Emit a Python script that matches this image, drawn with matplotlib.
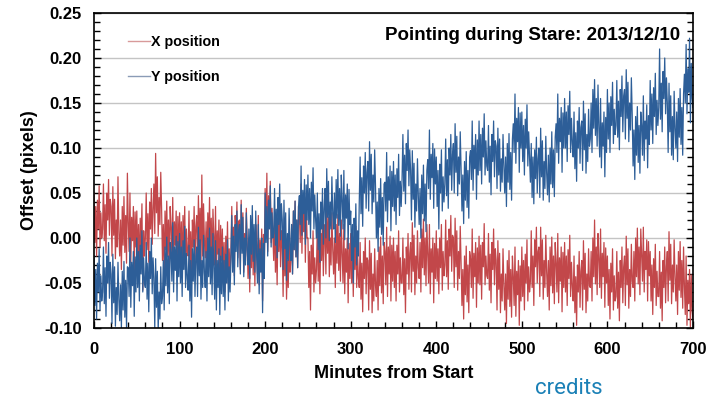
import numpy as np
import matplotlib.pyplot as plt
from matplotlib.lines import Line2D
from matplotlib.ticker import MultipleLocator, FormatStrFormatter

plt.rcParams['font.family'] = ['Liberation Sans', 'DejaVu Sans']

# pointing offsets in milli-pixels, one reading per minute, 10 per row
x_offset_mpx = [
    50, -5, 35, -20, 42, 10, 58, -10, 28, 0,
    10, 60, -3, 37, -17, 50, 20, 65, 3, 43,
    35, -20, 57, 3, 43, -23, 20, -10, 68, 7,
    -20, 20, -35, 35, -8, 46, -16, 25, -28, 72,
    17, -15, 50, -27, 23, -3, 35, -37, 29, -10,
    30, -25, 15, -40, 22, -10, 38, -58, 8, -20,
    0, 50, -13, 27, -27, 40, 10, 55, -7, 33,
    60, 5, 94, 28, 68, 2, 45, 15, 73, 32,
    -25, 15, -40, 30, -13, 41, -21, 20, -33, 35,
    12, -20, 45, -32, 18, -8, 30, -42, 24, -15,
    28, -22, 18, -38, 25, -12, 35, -32, 10, -18,
    -20, 30, -33, 7, -47, 20, -10, 35, -27, 13,
    25, -30, 47, -7, 33, -33, 70, -20, 38, -3,
    -22, 18, -38, 28, -10, 45, -18, 22, -35, 32,
    2, -30, 35, -42, 8, -18, 20, -52, 14, -25,
    10, -45, -5, -60, 2, -30, 18, -50, -12, -40,
    -15, 35, -28, 12, -42, 25, -5, 40, -22, 18,
    20, -35, 42, -12, 28, -38, 5, -25, 33, -8,
    -45, -5, -60, 10, -33, 21, -41, 0, -53, 15,
    -8, -40, 25, -52, -2, -28, 10, -70, 4, -35,
    55, 0, 72, -15, 47, 15, 63, -5, 33, 5,
    -25, 25, -38, 2, -52, 15, -15, 30, -32, 8,
    -10, -65, 12, -42, -2, -68, -25, -55, 3, -38,
    -25, 15, -40, 30, -13, 41, -21, 20, -33, 35,
    27, -5, 60, -17, 33, 7, 45, -27, 39, 0,
    0, -55, -15, -80, -8, -40, 8, -60, -22, -50,
    -35, 15, -48, -8, -62, 5, -25, 20, -42, -2,
    15, -40, 37, -17, 23, -43, 0, -30, 28, -13,
    -40, 0, -55, 15, -28, 26, -36, 5, -48, 20,
    -18, -50, 15, -62, -12, -38, 0, -72, -6, -45,
    5, -50, -10, -65, -3, -35, 13, -55, -17, -45,
    -55, -5, -68, -28, -82, -15, -45, 0, -62, -22,
    -25, -80, -3, -57, -17, -83, -40, -70, -12, -53,
    -65, -25, -80, -10, -53, 1, -61, -20, -73, -5,
    -15, -52, 12, -65, -10, -40, 2, -70, -8, -48,
    0, -55, -15, -70, -8, -40, 8, -60, -22, -50,
    -50, 0, -63, -23, -83, -10, -40, 5, -57, -17,
    -5, -60, 17, -37, 3, -63, -20, -50, 8, -33,
    -45, -5, -60, 10, -33, 21, -41, 0, -53, 15,
    -18, -50, 15, -62, -12, -38, 0, -72, -6, -45,
    8, -48, -12, -62, 0, -33, 15, -58, -15, -42,
    -30, 20, -43, -3, -57, 10, -20, 25, -37, 3,
    0, -55, 22, -32, 8, -58, -15, -45, 13, -28,
    -75, -35, -90, -20, -63, -9, -71, -30, -83, -15,
    -23, -55, 10, -67, -17, -43, -5, -77, -11, -50,
    2, -52, -8, -68, -5, -32, 16, -52, -20, -42,
    -45, 5, -58, -18, -72, -5, -35, 10, -52, -12,
    -25, -80, -3, -57, -17, -83, -40, -70, -12, -53,
    -80, -40, -95, -25, -68, -14, -76, -35, -88, -20,
    -43, -75, -10, -87, -37, -63, -25, -97, -31, -70,
    -10, -65, -25, -80, -18, -50, -2, -70, -32, -60,
    -48, 8, -55, -20, -75, -2, -32, 12, -50, -15,
    -10, -65, 12, -42, -2, -68, -25, -55, 3, -38,
    -65, -25, -80, -10, -53, 1, -61, -20, -73, -5,
    -28, -60, 5, -72, -22, -48, -10, -82, -16, -55,
    -5, -60, -20, -75, -13, -45, 3, -65, -27, -55,
    -70, -20, -83, -43, -97, -30, -60, -15, -77, -37,
    -25, -80, -3, -57, -17, -83, -40, -70, -12, -53,
    -55, -15, -70, 0, -43, 20, -51, -10, -63, 5,
    -23, -55, 10, -67, -17, -43, -5, -77, -11, -50,
    -20, -75, -35, -90, -28, -60, -12, -80, -42, -70,
    -65, -15, -78, -38, -92, -25, -55, -10, -72, -32,
    -20, -75, 2, -52, -12, -78, -35, -65, -7, -48,
    -55, -15, -70, 0, -43, 11, -51, -10, -63, 10,
    -20, -48, 12, -60, -15, -35, -2, -70, -4, -42,
    -15, -70, -30, -85, -23, -55, -7, -75, -37, -65,
    -65, -15, -78, -38, -92, -25, -55, -10, -72, -32,
    -15, -70, 7, -47, -7, -73, -30, -60, -2, -43,
    -70, -30, -85, -15, -58, -4, -66, -25, -78, -10,
    -53, -85, -20, -97, -47, -73, -35, -100, -41, -80,
    -90,
]

y_offset_mpx = [
    -20, -75, -35, -90, -28, -60, -12, -80, -42, -70,
    -60, -10, -73, -33, -87, -20, -50, -5, -67, -27,
    -40, -95, -18, -72, -32, -98, -55, -85, -27, -68,
    -92, -52, -100, -37, -80, -26, -88, -47, -100, -32,
    -33, -65, 0, -77, -27, -53, -15, -87, -21, -60,
    0, -55, -15, -70, -8, -40, 8, -60, -22, -50,
    -55, -5, -68, -28, -82, -15, -45, 0, -62, -22,
    -45, -100, -23, -77, -37, -103, -60, -90, -32, -73,
    -65, -25, -80, -10, -53, 1, -61, -20, -73, -5,
    -16, -48, 17, -60, -10, -36, 2, -70, -4, -43,
    5, -50, -10, -65, -3, -35, 13, -55, -17, -45,
    -58, -8, -70, -25, -88, -12, -48, -2, -65, -20,
    -10, -65, 12, -42, -2, -68, -25, -55, 3, -38,
    -55, -15, -70, 0, -43, 11, -51, -10, -63, 5,
    -30, -68, -3, -80, -25, -55, -12, -85, -20, -62,
    -10, -65, -25, -80, -18, -50, -2, -70, -32, -60,
    -25, 25, -38, 2, -52, 15, -15, 30, -32, 8,
    15, -40, 37, -17, 23, -43, 0, -30, 28, -13,
    -30, 10, -45, 25, -18, 36, -26, 15, -38, 30,
    -18, -50, 15, -62, -12, -38, 0, -83, -6, -45,
    50, -5, 35, -20, 42, 10, 58, -10, 28, 0,
    5, 55, -8, 32, -22, 45, 15, 60, -2, 38,
    20, -35, 42, -12, 28, -47, 5, -25, 33, -8,
    -25, 15, -40, 30, -13, 41, -21, 20, -33, 35,
    47, 15, 80, 3, 53, 27, 65, -7, 59, 20,
    70, 15, 55, 0, 62, 30, 78, 10, 48, 20,
    0, 50, -13, 27, -27, 40, 10, 55, -7, 33,
    55, 0, 77, 23, 63, -3, 40, 10, 68, 27,
    10, 50, -5, 65, 22, 76, 14, 55, 2, 70,
    42, 10, 75, -2, 48, 22, 60, -12, 54, 15,
    30, -25, 15, -50, 22, -10, 38, -30, 8, -20,
    40, 90, 27, 67, 13, 80, 50, 95, 33, 73,
    85, 30, 107, 53, 93, 27, 70, 40, 98, 57,
    0, 40, -15, 55, 12, 66, 4, 45, -8, 60,
    62, 30, 95, 18, 68, 42, 80, 8, 74, 35,
    85, 30, 70, 15, 77, 45, 93, 25, 63, 35,
    65, 115, 52, 92, 38, 105, 75, 120, 58, 98,
    75, 20, 97, 43, 83, 12, 60, 30, 88, 47,
    15, 55, 0, 70, 27, 81, 19, 60, 7, 75,
    87, 55, 120, 43, 93, 67, 105, 33, 99, 60,
    90, 35, 75, 10, 82, 50, 98, 30, 68, 40,
    60, 110, 47, 87, 33, 100, 70, 115, 53, 93,
    105, 50, 127, 73, 113, 47, 90, 60, 118, 77,
    30, 70, 16, 85, 42, 96, 34, 75, 22, 90,
    97, 65, 130, 53, 103, 77, 115, 43, 109, 70,
    130, 75, 115, 60, 122, 90, 138, 70, 108, 80,
    75, 125, 62, 102, 48, 115, 85, 130, 68, 108,
    102, 55, 122, 70, 110, 52, 88, 62, 115, 80,
    50, 90, 35, 105, 62, 116, 54, 95, 42, 110,
    127, 95, 160, 83, 133, 107, 145, 73, 139, 100,
    140, 85, 125, 70, 132, 100, 148, 80, 118, 90,
    62, 105, 45, 90, 38, 98, 66, 112, 50, 88,
    100, 45, 122, 68, 108, 42, 85, 55, 113, 72,
    48, 92, 40, 100, 60, 118, 56, 98, 46, 112,
    127, 95, 160, 83, 133, 107, 145, 73, 139, 100,
    155, 100, 140, 85, 147, 115, 163, 95, 133, 105,
    90, 140, 77, 117, 63, 130, 100, 145, 83, 123,
    130, 75, 152, 98, 138, 72, 115, 85, 143, 102,
    110, 150, 95, 165, 122, 176, 114, 155, 102, 170,
    122, 90, 155, 78, 128, 102, 140, 68, 134, 95,
    165, 110, 150, 95, 157, 125, 173, 105, 143, 115,
    125, 175, 112, 152, 98, 165, 135, 180, 118, 158,
    165, 110, 187, 133, 173, 107, 150, 120, 178, 137,
    80, 120, 65, 135, 92, 146, 84, 125, 72, 140,
    125, 92, 158, 86, 130, 110, 148, 78, 136, 104,
    175, 120, 160, 105, 167, 135, 183, 115, 153, 125,
    145, 210, 132, 172, 118, 185, 155, 200, 138, 178,
    150, 95, 172, 118, 158, 92, 135, 87, 163, 122,
    100, 140, 85, 155, 112, 166, 104, 145, 92, 160,
    182, 150, 215, 138, 188, 162, 222, 128, 194, 155,
    145,
]

minutes = np.arange(len(y_offset_mpx))
x_pos = np.array(x_offset_mpx) / 1000.0
y_pos = np.array(y_offset_mpx) / 1000.0

red = '#c2474a'
blue = '#2d5e98'

fig = plt.figure(figsize=(7.26, 4.0), dpi=100)
ax = fig.add_axes([0.1295, 0.18, 0.825, 0.7875])

ax.plot(minutes, x_pos, color=red, lw=0.9)
ax.plot(minutes, y_pos, color=blue, lw=0.9)

ax.set_xlim(0, 700)
ax.set_ylim(-0.10, 0.25)
ax.xaxis.set_major_locator(MultipleLocator(100))
ax.xaxis.set_minor_locator(MultipleLocator(20))
ax.yaxis.set_major_locator(MultipleLocator(0.05))
ax.yaxis.set_minor_locator(MultipleLocator(0.01))
ax.yaxis.set_major_formatter(FormatStrFormatter('%.2f'))

ax.grid(axis='y', which='major', color='#c4c4c4', lw=1)
ax.set_axisbelow(True)

ax.tick_params(axis='x', which='both', direction='in', top=False, pad=10,
               labelsize=12)
ax.tick_params(axis='y', which='both', direction='in', left=True, right=True,
               pad=9, labelsize=12)
ax.tick_params(which='major', length=5, width=1)
ax.tick_params(which='minor', length=4, width=1)
for lab in ax.get_xticklabels() + ax.get_yticklabels():
    lab.set_fontweight('bold')

for sp in ax.spines.values():
    sp.set_linewidth(1.2)

ax.set_xlabel('Minutes from Start', fontsize=13, fontweight='bold', labelpad=6)
ax.set_ylabel('Offset (pixels)', fontsize=13, fontweight='bold', labelpad=4)

ax.text(0.978, 0.93, 'Pointing during Stare: 2013/12/10', transform=ax.transAxes,
        ha='right', va='center', fontsize=13.5, fontweight='bold')

handles = [Line2D([], [], color='#d89a9a', lw=1),
           Line2D([], [], color='#8a9bb6', lw=1)]
ax.legend(handles, ['X position', 'Y position'], loc='upper left',
          bbox_to_anchor=(0.057, 0.929), frameon=False, borderpad=0,
          borderaxespad=0, handlelength=1.5, handletextpad=0.1,
          labelspacing=1.45, prop={'weight': 'bold', 'size': 10.3})

fig.text(0.784, 0.03, 'credits', color='#1a80b6', fontsize=16,
         family=['Roboto', 'DejaVu Sans'], ha='center', va='center')

fig.savefig('out.png', dpi=100)
